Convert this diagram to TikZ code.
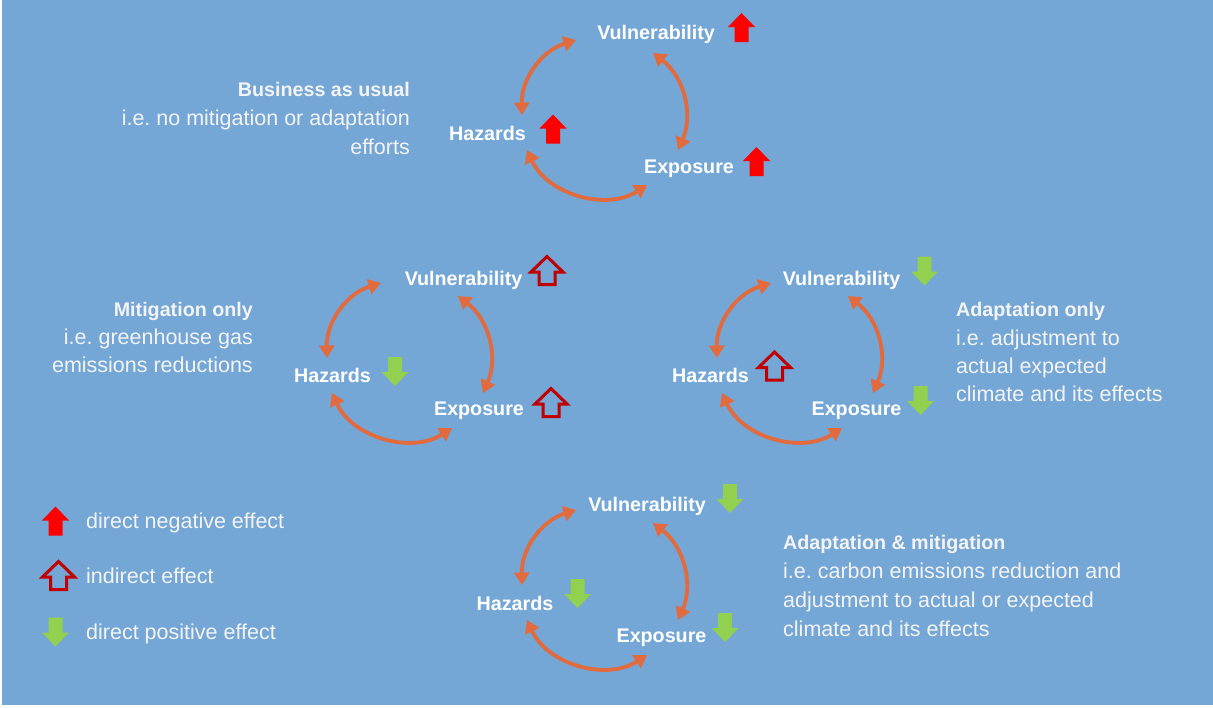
\documentclass[tikz,border=0pt]{standalone}
\usepackage{fontspec}
\setmainfont{Liberation Sans}
\usetikzlibrary{arrows.meta}
\frenchspacing

\definecolor{bg}{RGB}{116,166,214}
\definecolor{loopline}{RGB}{226,106,60}
\definecolor{negred}{RGB}{255,0,0}
\definecolor{indred}{RGB}{192,0,0}
\definecolor{posgreen}{RGB}{146,208,80}
\definecolor{note}{RGB}{244,244,244}

\newcommand\descfont{\frenchspacing\fontsize{21.5}{29}\selectfont}
\newcommand\headfont{\fontsize{19.7}{29}\selectfont\bfseries}

\tikzset{
  factor/.style={text=white, font=\fontsize{19.7}{24}\selectfont\bfseries, inner sep=0pt, anchor=base},
  desc/.style={text=note, font=\descfont, inner sep=0pt},
  link/.style={loopline, line width=3.8pt,
    {Triangle[length=12.5pt,width=15pt]}-{Triangle[length=12.5pt,width=15pt]}},
  upneg/.pic={\fill[negred] (0,-14.5) -- (13.5,-0.5) -- (7,-0.5) -- (7,14.5)
      -- (-7,14.5) -- (-7,-0.5) -- (-13.5,-0.5) -- cycle;},
  downpos/.pic={\fill[posgreen] (0,14.5) -- (13.5,0.5) -- (7,0.5) -- (7,-14.5)
      -- (-7,-14.5) -- (-7,0.5) -- (-13.5,0.5) -- cycle;},
  upind/.pic={\draw[indred, line width=3pt] (0,-14) -- (16,1.5) -- (8,1.5) -- (8,14)
      -- (-8,14) -- (-8,1.5) -- (-16,1.5) -- cycle;},
}

% three double-headed arcs linking hazards, vulnerability and exposure
\newcommand\riskloop[3]{%
  \begin{scope}[shift={(#2,#3)}]
    \coordinate (#1hz) at (522,115);
    \coordinate (#1vl) at (576,40);
    \coordinate (#1vr) at (653,53);
    \coordinate (#1ex) at (678,150);
    \coordinate (#1eb) at (647,185);
    \coordinate (#1hb) at (527,150);
    \draw[link] (#1hz) to[bend left=37] (#1vl);
    \draw[link] (#1vr) to[bend left=38] (#1ex);
    \draw[link] (#1eb) to[bend left=49] (#1hb);
  \end{scope}}

\begin{document}
\begin{tikzpicture}[x=1pt,y=-1pt]
  \useasboundingbox (0,0) rectangle (1213,707);
  \fill[white] (0,0) rectangle (1213,707);
  \fill[bg] (2,0) rectangle (1213,705);

  % business as usual
  \riskloop{b}{0}{0}
  \node[factor] (bV) at (656,39) {Vulnerability};
  \node[factor] (bH) at (487.5,140) {Hazards};
  \node[factor] (bE) at (689,173.3) {Exposure};
  \pic at (741.5,27.5) {upneg};
  \pic at (553,129) {upneg};
  \pic at (756.5,161.5) {upneg};
  \node[desc, align=right, anchor=base east] (bText) at (410,154)
    {{\headfont Business as usual}\\i.e. no mitigation or adaptation\\efforts};

  % mitigation only
  \riskloop{m}{-195}{243}
  \node[factor] (mV) at (463.5,285) {Vulnerability};
  \node[factor] (mH) at (332.5,382.7) {Hazards};
  \node[factor] (mE) at (479,415.7) {Exposure};
  \pic at (547,270.5) {upind};
  \pic at (395,371.5) {downpos};
  \pic at (551,402.5) {upind};
  \node[desc, align=right, anchor=base east, font=\frenchspacing\fontsize{21.5}{28}\selectfont] (mText) at (253,372.7)
    {{\fontsize{19.7}{28}\selectfont\bfseries Mitigation only}\\i.e. greenhouse gas\\emissions reductions};

  % adaptation only
  \riskloop{a}{195}{243}
  \node[factor] (aV) at (841.5,285) {Vulnerability};
  \node[factor] (aH) at (710.5,382.7) {Hazards};
  \node[factor] (aE) at (856.5,415.7) {Exposure};
  \pic at (924.5,271) {downpos};
  \pic at (774.5,366) {upind};
  \pic at (920.5,400.5) {downpos};
  \node[desc, align=left, anchor=base west, font=\frenchspacing\fontsize{21.5}{28.3}\selectfont] (aText) at (956,401.7)
    {{\fontsize{19.7}{28.3}\selectfont\bfseries Adaptation only}\\i.e. adjustment to\\actual expected\\climate and its effects};

  % adaptation and mitigation
  \riskloop{c}{0}{470}
  \node[factor] (cV) at (647,511.7) {Vulnerability};
  \node[factor] (cH) at (515,610) {Hazards};
  \node[factor] (cE) at (661.5,642.3) {Exposure};
  \pic at (730,498.5) {downpos};
  \pic at (577.5,593.5) {downpos};
  \pic at (725,627.5) {downpos};
  \node[desc, align=left, anchor=base west] (cText) at (783,636.7)
    {{\headfont Adaptation \& mitigation}\\i.e. carbon emissions reduction and\\adjustment to actual or expected\\climate and its effects};

  % legend
  \pic at (55.5,521) {upneg};
  \pic at (58.5,575.5) {upind};
  \pic at (55.5,632) {downpos};
  \node[desc, anchor=base west] (lNeg) at (86,528) {direct negative effect};
  \node[desc, anchor=base west] (lInd) at (86,583) {indirect effect};
  \node[desc, anchor=base west] (lPos) at (86,639) {direct positive effect};
\end{tikzpicture}
\end{document}
